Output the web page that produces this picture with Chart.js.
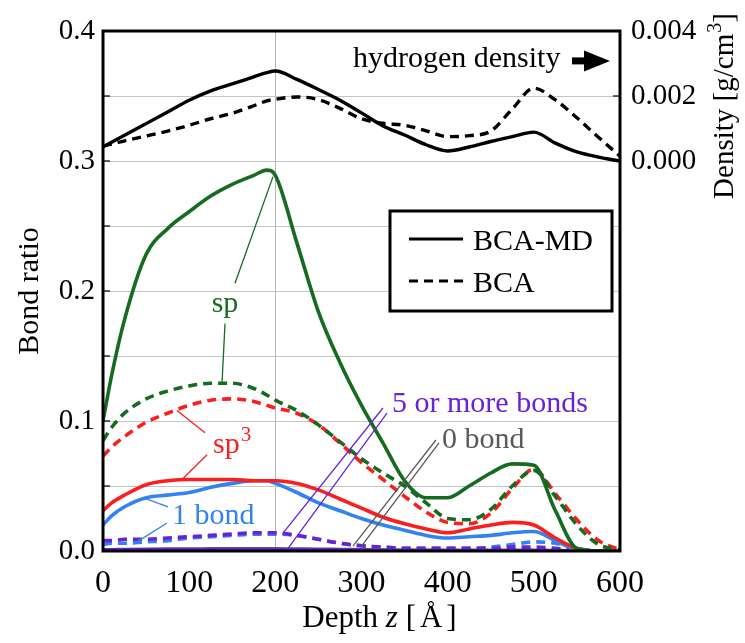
<!DOCTYPE html>
<html>
<head>
<meta charset="utf-8">
<script src="https://cdn.jsdelivr.net/npm/chart.js@4.4.1/dist/chart.umd.min.js"></script>
<style>
  html, body { margin: 0; padding: 0; background: #fff; }
  #wrap { width: 745px; height: 643px; }
</style>
</head>
<body>
<div id="wrap"><canvas id="c" width="745" height="643"></canvas></div>
<script>
// Depth grid (Å) shared by every profile
const depth = [0, 10, 25, 50, 75, 100, 125, 150, 175, 190, 200, 225, 250, 275, 300, 325, 350, 375, 400, 425, 450, 475, 500, 525, 550, 575, 600];

// Bond ratios, BCA-MD (solid) and BCA (dashed)
const spMD   = [0.100, 0.135, 0.178, 0.228, 0.248, 0.261, 0.273, 0.282, 0.289, 0.293, 0.289, 0.237, 0.184, 0.145, 0.112, 0.083, 0.054, 0.041, 0.041, 0.050, 0.060, 0.067, 0.066, 0.031, 0.002, 0, 0];
const spBCA  = [0.085, 0.095, 0.106, 0.117, 0.123, 0.127, 0.129, 0.129, 0.125, 0.120, 0.116, 0.108, 0.097, 0.084, 0.071, 0.060, 0.050, 0.037, 0.025, 0.024, 0.032, 0.050, 0.062, 0.042, 0.020, 0.005, 0.001];
const sp3MD  = [0.031, 0.037, 0.043, 0.051, 0.054, 0.055, 0.055, 0.055, 0.054, 0.054, 0.054, 0.052, 0.047, 0.040, 0.033, 0.026, 0.021, 0.017, 0.014, 0.017, 0.020, 0.022, 0.020, 0.010, 0.002, 0, 0];
const sp3BCA = [0.073, 0.080, 0.088, 0.099, 0.106, 0.112, 0.116, 0.117, 0.115, 0.112, 0.110, 0.106, 0.097, 0.083, 0.068, 0.055, 0.042, 0.030, 0.022, 0.021, 0.029, 0.048, 0.063, 0.044, 0.024, 0.008, 0.001];
const b1MD   = [0.020, 0.027, 0.034, 0.041, 0.043, 0.045, 0.049, 0.052, 0.054, 0.054, 0.052, 0.045, 0.037, 0.031, 0.025, 0.020, 0.016, 0.012, 0.010, 0.011, 0.012, 0.014, 0.015, 0.008, 0.001, 0, 0];
const b1BCA  = [0.005, 0.006, 0.006, 0.007, 0.008, 0.010, 0.011, 0.012, 0.013, 0.013, 0.013, 0.012, 0.009, 0.006, 0.004, 0.003, 0.002, 0.002, 0.002, 0.002, 0.003, 0.005, 0.007, 0.006, 0.002, 0, 0];
const b5MD   = [0.001, 0.001, 0.001, 0.001, 0.001, 0.001, 0.001, 0.001, 0.001, 0.001, 0.001, 0.001, 0.001, 0.0008, 0.0005, 0.0004, 0.0003, 0.0003, 0.0003, 0.0003, 0.0003, 0.0003, 0.0003, 0.0002, 0.0001, 0, 0];
const b5BCA  = [0.008, 0.008, 0.009, 0.009, 0.010, 0.011, 0.012, 0.013, 0.014, 0.014, 0.014, 0.012, 0.009, 0.006, 0.004, 0.003, 0.002, 0.002, 0.002, 0.002, 0.002, 0.003, 0.003, 0.002, 0.001, 0, 0];
const b0MD   = [0.001, 0.001, 0.0012, 0.0014, 0.0015, 0.0015, 0.0016, 0.0016, 0.0016, 0.0016, 0.0016, 0.0015, 0.0014, 0.0012, 0.001, 0.0008, 0.0006, 0.0005, 0.0004, 0.0004, 0.0004, 0.0004, 0.0004, 0.0003, 0.0001, 0, 0];
const b0BCA  = [0.0006, 0.0006, 0.0007, 0.0008, 0.0008, 0.0009, 0.0009, 0.0009, 0.0009, 0.0009, 0.0009, 0.0008, 0.0007, 0.0006, 0.0005, 0.0004, 0.0003, 0.0003, 0.0003, 0.0003, 0.0003, 0.0004, 0.0005, 0.0004, 0.0001, 0, 0];

// Hydrogen density (g/cm3)
const hMD  = [0.00043, 0.00058, 0.00079, 0.00115, 0.00151, 0.00187, 0.00216, 0.00237, 0.00259, 0.00272, 0.00277, 0.00251, 0.00220, 0.00187, 0.00148, 0.00108, 0.00080, 0.00050, 0.00031, 0.00043, 0.00060, 0.00075, 0.00089, 0.00055, 0.00028, 0.00012, 0.00000];
const hBCA = [0.00046, 0.00052, 0.00062, 0.00077, 0.00092, 0.00110, 0.00130, 0.00147, 0.00170, 0.00185, 0.00190, 0.00197, 0.00189, 0.00162, 0.00130, 0.00116, 0.00110, 0.00093, 0.00075, 0.00078, 0.00092, 0.00160, 0.00224, 0.00188, 0.00133, 0.00073, 0.00015];

// Axis ticks
const depthTicks = [0, 100, 200, 300, 400, 500, 600];
const densityTicks = [0, 0.002, 0.004];

const SERIF = '"Liberation Serif", "Times New Roman", Times, serif';
const GREEN = '#156b1f', RED = '#fb1e1e', BLUE = '#3182f2', PURPLE = '#6a22d8', GRAY = '#5a5a5a', BLACK = '#000';
const DASH = [9, 6];

function series(values, color, dashed, axis, width) {
  return {
    data: depth.map((z, i) => ({ x: z, y: values[i] })),
    borderColor: color,
    borderWidth: width || 3.6,
    borderDash: dashed ? DASH : [],
    pointRadius: 0,
    fill: false,
    cubicInterpolationMode: 'monotone',
    yAxisID: axis || 'y'
  };
}

// Callout lines, [depth, ratio] pairs
const callouts = [
  { color: GREEN,  pts: [[153.2, 0.206], [197.3, 0.288]] },
  { color: GREEN,  pts: [[141.6, 0.175], [138.1, 0.129]] },
  { color: RED,    pts: [[118.4, 0.091], [85.9, 0.108]] },
  { color: RED,    pts: [[120.7, 0.074], [91.7, 0.055]] },
  { color: BLUE,   pts: [[75.4, 0.034], [46.4, 0.041]] },
  { color: BLUE,   pts: [[74.3, 0.0215], [39.5, 0.007]] },
  { color: PURPLE, pts: [[324.9, 0.110], [208.9, 0.0138]] },
  { color: PURPLE, pts: [[329.6, 0.106], [213.5, 0.0008]] },
  { color: GRAY,   pts: [[386.4, 0.0854], [290.1, 0.0038]] },
  { color: GRAY,   pts: [[389.9, 0.0831], [299.4, 0.0031]] }
];

const overlay = {
  id: 'overlay',
  afterDatasetsDraw(chart) {
    const { ctx, chartArea: a, scales } = chart;
    const X = scales.x, Y = scales.y, Y2 = scales.y2;
    ctx.save();

    // callout lines
    ctx.lineWidth = 1.3;
    callouts.forEach(c => {
      ctx.strokeStyle = c.color;
      ctx.beginPath();
      ctx.moveTo(X.getPixelForValue(c.pts[0][0]), Y.getPixelForValue(c.pts[0][1]));
      ctx.lineTo(X.getPixelForValue(c.pts[1][0]), Y.getPixelForValue(c.pts[1][1]));
      ctx.stroke();
    });

    // curve labels
    ctx.textBaseline = 'alphabetic';
    ctx.font = '30px ' + SERIF;
    ctx.fillStyle = GREEN; ctx.textAlign = 'center';
    ctx.fillText('sp', X.getPixelForValue(141.6), Y.getPixelForValue(0.184));
    ctx.textAlign = 'left';
    ctx.fillStyle = RED;
    const sx = X.getPixelForValue(127.7), sy = Y.getPixelForValue(0.0754);
    ctx.fillText('sp', sx, sy);
    const spw = ctx.measureText('sp').width;
    ctx.font = '21px ' + SERIF;
    ctx.fillText('3', sx + spw + 1, sy - 12);
    ctx.font = '30px ' + SERIF;
    ctx.fillStyle = BLUE;
    ctx.fillText('1 bond', X.getPixelForValue(80.1), Y.getPixelForValue(0.0208));
    ctx.fillStyle = PURPLE;
    ctx.fillText('5 or more bonds', X.getPixelForValue(335.4), Y.getPixelForValue(0.107));
    ctx.fillStyle = GRAY;
    ctx.fillText('0 bond', X.getPixelForValue(393.4), Y.getPixelForValue(0.0792));

    // hydrogen density label with arrow
    ctx.fillStyle = BLACK;
    const hy = Y2.getPixelForValue(0.00289);
    ctx.fillText('hydrogen density', X.getPixelForValue(290.1), hy);
    const ax0 = X.getPixelForValue(544.3), ax1 = X.getPixelForValue(588.4);
    const ay = Y2.getPixelForValue(0.00308);
    ctx.fillRect(ax0, ay - 3.5, 16, 7);
    ctx.beginPath();
    ctx.moveTo(ax1 - 26, ay - 10.5);
    ctx.lineTo(ax1, ay);
    ctx.lineTo(ax1 - 26, ay + 10.5);
    ctx.closePath();
    ctx.fill();

    // legend box
    const bx1 = a.right - 8, bx0 = bx1 - 222, by0 = a.top + 180, by1 = by0 + 100;
    ctx.fillStyle = '#fff';
    ctx.fillRect(bx0, by0, bx1 - bx0, by1 - by0);
    ctx.lineWidth = 3; ctx.strokeStyle = BLACK;
    ctx.strokeRect(bx0, by0, bx1 - bx0, by1 - by0);
    ctx.lineWidth = 3;
    ctx.beginPath(); ctx.moveTo(bx0 + 19, by0 + 28); ctx.lineTo(bx0 + 73, by0 + 28); ctx.stroke();
    ctx.setLineDash(DASH);
    ctx.beginPath(); ctx.moveTo(bx0 + 19, by0 + 70); ctx.lineTo(bx0 + 76, by0 + 70); ctx.stroke();
    ctx.setLineDash([]);
    ctx.fillStyle = BLACK; ctx.font = '30px ' + SERIF;
    ctx.fillText('BCA-MD', bx0 + 83, by0 + 39);
    ctx.fillText('BCA', bx0 + 83, by0 + 81);
    ctx.restore();
  },
  afterDraw(chart) {
    const { ctx, chartArea: a, scales } = chart;
    const Y = scales.y, Y2 = scales.y2;
    ctx.save();
    // inward tick marks
    ctx.strokeStyle = BLACK; ctx.lineWidth = 1.2;
    Y.ticks.forEach(t => {
      const p = Y.getPixelForValue(t.value);
      ctx.beginPath(); ctx.moveTo(a.left, p); ctx.lineTo(a.left + 7, p); ctx.stroke();
    });
    densityTicks.forEach(v => {
      const p = Y2.getPixelForValue(v);
      ctx.beginPath(); ctx.moveTo(a.right, p); ctx.lineTo(a.right - 7, p); ctx.stroke();
    });
    // frame
    ctx.lineWidth = 3;
    ctx.strokeRect(a.left, a.top, a.right - a.left, a.bottom - a.top);

    // axis titles
    ctx.fillStyle = BLACK;
    ctx.textBaseline = 'alphabetic';
    // left
    ctx.save();
    ctx.translate(38, (a.top + a.bottom) / 2);
    ctx.rotate(-Math.PI / 2);
    ctx.textAlign = 'center';
    ctx.font = '30px ' + SERIF;
    ctx.fillText('Bond ratio', 0, 0);
    ctx.restore();
    // right
    ctx.save();
    const rc = (Y2.getPixelForValue(0) + Y2.getPixelForValue(0.004)) / 2 + 10;
    ctx.translate(733, rc);
    ctx.rotate(-Math.PI / 2);
    ctx.textAlign = 'left';
    ctx.font = '29px ' + SERIF;
    const p1 = 'Density [g/cm', p3 = ']';
    const w1 = ctx.measureText(p1).width;
    ctx.font = '20px ' + SERIF;
    const w2 = ctx.measureText('3').width;
    ctx.font = '29px ' + SERIF;
    const w3 = ctx.measureText(p3).width;
    let x0 = -(w1 + w2 + 1 + w3) / 2;
    ctx.fillText(p1, x0, 0);
    ctx.font = '20px ' + SERIF;
    ctx.fillText('3', x0 + w1 + 1, -12);
    ctx.font = '29px ' + SERIF;
    ctx.fillText(p3, x0 + w1 + w2 + 1, 0);
    ctx.restore();
    // bottom: "Depth z [Å]" with italic z and a little air inside the brackets
    const parts = [['Depth ', '', 0], ['z', 'italic ', 0], [' [', '', 0], ['\u00C5', '', 4], [']', '', 4]];
    let tot = 0;
    parts.forEach(p => { ctx.font = p[1] + '31px ' + SERIF; tot += ctx.measureText(p[0]).width + p[2]; });
    let bx = (a.left + a.right) / 2 + 18 - tot / 2;
    ctx.textAlign = 'left';
    parts.forEach(p => {
      ctx.font = p[1] + '31px ' + SERIF;
      bx += p[2];
      ctx.fillText(p[0], bx, 627);
      bx += ctx.measureText(p[0]).width;
    });
    ctx.restore();
  }
};

const datasets = [
  series(hMD, BLACK, false, 'y2', 3.4),
  series(hBCA, BLACK, true, 'y2', 3.4),
  series(spMD, GREEN, false),
  series(spBCA, GREEN, true),
  series(sp3BCA, RED, true),
  series(sp3MD, RED, false),
  series(b1MD, BLUE, false),
  series(b5BCA, PURPLE, true),
  series(b1BCA, BLUE, true),
  series(b5MD, PURPLE, false),
  series(b0MD, GRAY, false),
  series(b0BCA, GRAY, true)
];

new Chart(document.getElementById('c'), {
  type: 'line',
  data: { datasets },
  plugins: [overlay],
  options: {
    responsive: false,
    animation: false,
    devicePixelRatio: 1,
    layout: { padding: { top: 31, left: 0, right: 0, bottom: 0 } },
    plugins: { legend: { display: false }, tooltip: { enabled: false } },
    scales: {
      x: {
        type: 'linear', min: 0, max: 600,
        afterBuildTicks: s => { s.ticks = depthTicks.map(v => ({ value: v })); },
        afterFit: s => { s.height = 92; },
        ticks: { font: { family: SERIF, size: 32 }, color: BLACK, padding: 13, maxRotation: 0 },
        grid: {
          drawTicks: false,
          lineWidth: 1,
          color: c => (c.tick && c.tick.value === 200) ? '#b4b4b4' : 'rgba(0,0,0,0)'
        },
        border: { display: false }
      },
      y: {
        min: 0, max: 0.4,
        position: 'left',
        afterFit: s => { s.width = 103; },
        ticks: {
          stepSize: 0.05,
          font: { family: SERIF, size: 29 }, color: BLACK, padding: 8,
          callback: v => (Math.round(v * 100) % 10 === 0) ? v.toFixed(1) : ''
        },
        grid: { drawTicks: false, color: '#c4c4c4', lineWidth: 1 },
        border: { display: false }
      },
      y2: {
        min: -0.012, max: 0.004,
        position: 'right',
        afterBuildTicks: s => { s.ticks = densityTicks.map(v => ({ value: v })); },
        afterFit: s => { s.width = 125; },
        ticks: {
          font: { family: SERIF, size: 29 }, color: BLACK, padding: 11,
          callback: v => v.toFixed(3)
        },
        grid: { display: false, drawTicks: false },
        border: { display: false }
      }
    }
  }
});
</script>
</body>
</html>
